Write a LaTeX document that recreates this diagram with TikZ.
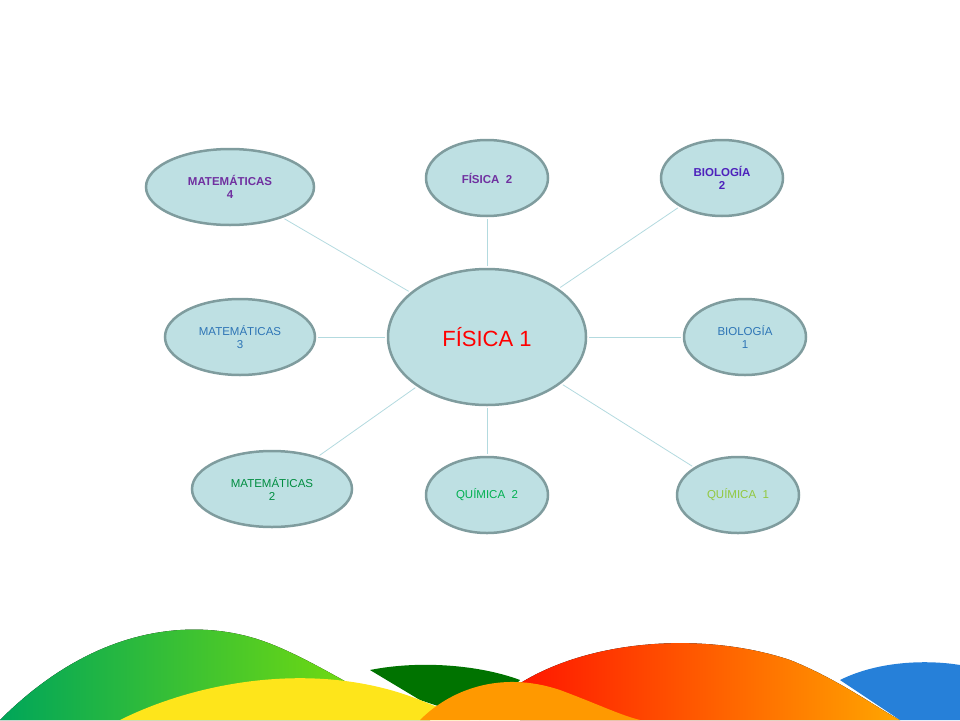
\documentclass[tikz,border=0pt]{standalone}
\usepackage{fontspec}
\setmainfont{Liberation Sans}
\definecolor{bubble}{HTML}{BEE0E3}
\definecolor{rim}{HTML}{7F9C9E}
\definecolor{spoke}{HTML}{B3DADF}
\definecolor{purp}{HTML}{7030A0}
\definecolor{blu}{HTML}{2E75B6}
\definecolor{grn}{HTML}{00B050}
\definecolor{lgrn}{HTML}{92C83E}
\tikzset{
    topic/.style={
           ellipse,
           draw=rim,
           fill=bubble,
           line width=2.5pt,
           minimum width=122pt,
           minimum height=76pt,
           inner sep=1pt,
           align=center,
           font=\fontsize{11.5}{12.5}\selectfont,
           },
}
\usetikzlibrary{shapes.geometric}
\begin{document}
\begin{tikzpicture}[x=1pt,y=-1pt]
 \useasboundingbox (0,0) rectangle (960,720);

 % bottom waves
 \fill[left color=teal!70!green, right color=yellow!60!green!90!black] (0,720) .. controls (100,620) and (200,620) .. (260,640) .. controls (320,660) and (400,720) .. (430,720) -- cycle;
 \fill[green!45!black] (370,670) .. controls (420,660) and (480,665) .. (520,680) -- (480,720) -- (420,700) -- cycle;
 \fill[yellow!85!orange!90!white] (120,720) .. controls (200,680) and (320,660) .. (420,700) -- (470,720) -- cycle;
 \fill[left color=red!85!orange, right color=orange!70!yellow] (510,690) .. controls (580,640) and (700,630) .. (790,660) .. controls (840,680) and (880,710) .. (900,720) -- (520,720) -- cycle;
 \fill[orange!80!yellow] (420,720) .. controls (450,690) and (500,670) .. (560,690) .. controls (600,705) and (620,715) .. (640,720) -- cycle;
 \fill[blue!50!cyan!70!gray] (840,680) .. controls (880,660) and (930,660) .. (960,665) -- (960,720) -- (900,720) -- cycle;

 \node[topic, minimum width=198pt, minimum height=136pt,
       font=\fontsize{22}{24}\selectfont, text=red] (FIS1) at (487,337) {FÍSICA 1};

 \node[topic, minimum width=168pt, text=purp, font=\fontsize{11.5}{12.5}\selectfont\bfseries] (MAT4) at (230,187) {MATEMÁTICAS\\4};
 \node[topic, text=purp, font=\fontsize{11.5}{12.5}\selectfont\bfseries] (FIS2) at (487,178) {FÍSICA~~2};
 \node[topic, text=purp!70!blue, font=\fontsize{11.5}{12.5}\selectfont\bfseries] (BIO2) at (722,178) {BIOLOGÍA\\2};
 \node[topic, minimum width=150pt, text=blu] (MAT3) at (240,337) {MATEMÁTICAS\\3};
 \node[topic, text=blu] (BIO1) at (745,337) {BIOLOGÍA\\1};
 \node[topic, minimum width=160pt, text=grn!80!black] (MAT2) at (272,489) {MATEMÁTICAS\\2};
 \node[topic, text=grn] (QUI2) at (487,495) {QUÍMICA~~2};
 \node[topic, text=lgrn] (QUI1) at (738,495) {QUÍMICA~~1};

 \foreach \n in {MAT4,FIS2,BIO2,MAT3,BIO1,MAT2,QUI2,QUI1}
   \draw[spoke, line width=0.8pt, shorten >=2pt, shorten <=2pt] (FIS1) -- (\n);
\end{tikzpicture}
\end{document}
